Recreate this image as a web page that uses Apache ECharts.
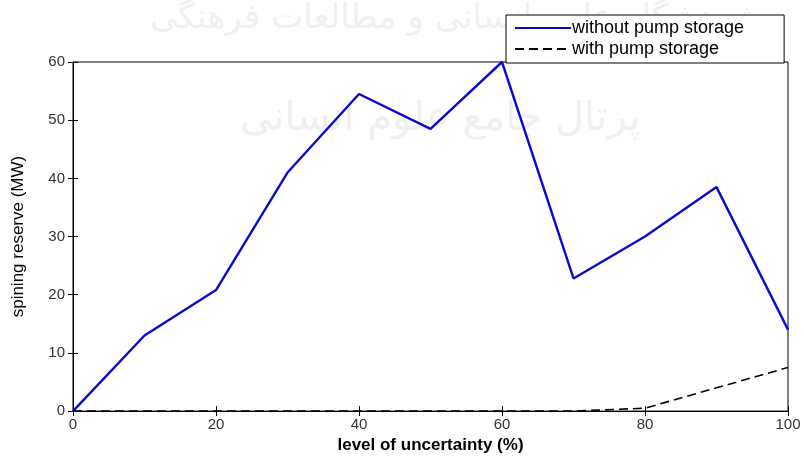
<!DOCTYPE html>
<html>
<head>
<meta charset="utf-8">
<script src="https://cdn.jsdelivr.net/npm/echarts@6/dist/echarts.min.js"></script>
<style>
  html, body { margin: 0; padding: 0; background: #fff; }
</style>
</head>
<body>
<div id="chart" style="width: 804px; height: 459px;"></div>
<script>
// level of uncertainty (%)
const uncertainty = [0, 10, 20, 30, 40, 50, 60, 70, 80, 90, 100];
// spinning reserve (MW)
const withoutPump = [0, 13, 20.8, 41, 54.5, 48.5, 60, 22.8, 30, 38.5, 14];
const withPump = [0, 0, 0, 0, 0, 0, 0, 0, 0.5, 4, 7.5];

const pairs = (ys) => uncertainty.map((x, i) => [x, ys[i]]);

let chart = echarts.init(document.getElementById("chart"));

let option = {
  animation: false,
  backgroundColor: "#fff",
  textStyle: { fontFamily: "Liberation Sans" },
  graphic: [
    {
      type: "text", left: 150, top: 2, z: -1,
      style: { text: "پژوهشگاه علوم انسانی و مطالعات فرهنگی", fontSize: 34, fill: "#f0f0f0", fontFamily: "DejaVu Sans" }
    },
    {
      type: "text", left: 240, top: 100, z: -1,
      style: { text: "پرتال جامع علوم انسانی", fontSize: 40, fill: "#f0f0f0", fontFamily: "DejaVu Sans" }
    }
  ],
  legend: {
    orient: "vertical",
    left: 506, top: 15,
    padding: [4, 40, 5, 8],
    itemGap: 3,
    itemWidth: 56, itemHeight: 12,
    backgroundColor: "#fff",
    borderColor: "#000", borderWidth: 1,
    itemStyle: { opacity: 0 },
    textStyle: { fontSize: 18, color: "#000", padding: [0, 0, 0, -4] },
    data: ["without pump storage", "with pump storage"]
  },
  grid: {
    left: 73, right: 16, top: 62, bottom: 47,
    show: true, borderColor: "#000", borderWidth: 1
  },
  xAxis: [
    {
      type: "value", min: 0, max: 100, interval: 20,
      name: "level of uncertainty (%)",
      nameLocation: "middle", nameGap: 25,
      nameTextStyle: { fontSize: 17, fontWeight: "bold", color: "#000" },
      axisLine: { lineStyle: { color: "#000" } },
      axisTick: { inside: true, length: 5, lineStyle: { color: "#000" } },
      axisLabel: { fontSize: 15, color: "#333", margin: 6 },
      splitLine: { show: false }
    },
    {
      type: "value", min: 0, max: 100, interval: 20, position: "top",
      axisLine: { lineStyle: { color: "#000" } },
      axisTick: { inside: true, length: 5, lineStyle: { color: "#000" } },
      axisLabel: { show: false },
      splitLine: { show: false }
    }
  ],
  yAxis: [
    {
      type: "value", min: 0, max: 60, interval: 10,
      name: "spining reserve (MW)",
      nameLocation: "middle", nameGap: 46,
      nameTextStyle: { fontSize: 17, color: "#000" },
      axisLine: { show: true, lineStyle: { color: "#000" } },
      axisTick: { show: true, inside: true, length: 5, lineStyle: { color: "#000" } },
      axisLabel: { fontSize: 15, color: "#333", margin: 8 },
      splitLine: { show: false }
    },
    {
      type: "value", min: 0, max: 60, interval: 10, position: "right",
      axisLine: { show: true, lineStyle: { color: "#000" } },
      axisTick: { show: true, inside: true, length: 5, lineStyle: { color: "#000" } },
      axisLabel: { show: false },
      splitLine: { show: false }
    }
  ],
  series: [
    {
      name: "without pump storage",
      type: "line",
      symbol: "none",
      data: pairs(withoutPump),
      lineStyle: { color: "#0a0acc", width: 2.4 },
      itemStyle: { color: "#0a0acc" },
      z: 3
    },
    {
      name: "with pump storage",
      type: "line",
      symbol: "none",
      data: pairs(withPump),
      lineStyle: { color: "#000", width: 1.6, type: [9, 5] },
      itemStyle: { color: "#000" },
      z: 4
    }
  ]
};

chart.setOption(option);
</script>
</body>
</html>
